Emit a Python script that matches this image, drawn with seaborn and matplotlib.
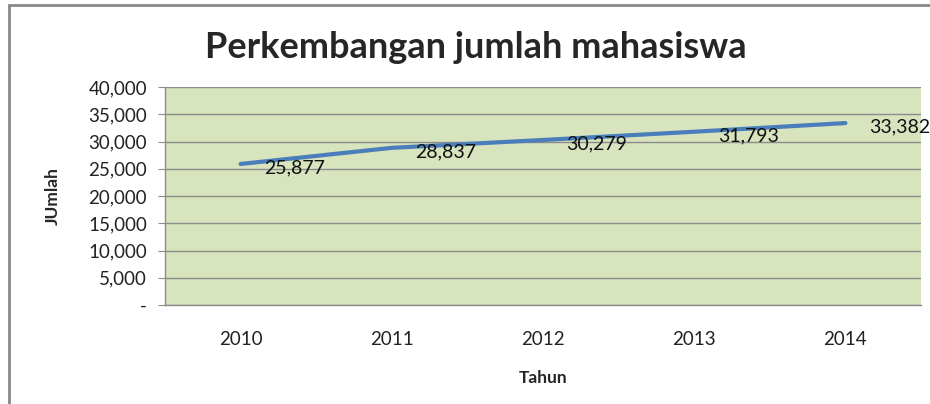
import pandas as pd
import matplotlib.pyplot as plt
import seaborn as sns
from matplotlib.patches import Rectangle
from matplotlib.ticker import FuncFormatter

# Data
tahun = ['2010', '2011', '2012', '2013', '2014']
jumlah = [25877, 28837, 30279, 31793, 33382]

data = pd.DataFrame({'Tahun': tahun, 'Jumlah': jumlah})

sns.set_style('white')
plt.rcParams['font.family'] = ['Lato', 'DejaVu Sans']

fig = plt.figure(figsize=(9.3, 4.04), dpi=100)
ax = fig.add_axes([165 / 930, 1 - 305 / 404, (921 - 165) / 930, (305 - 87) / 404])

sns.lineplot(data=data, x='Tahun', y='Jumlah', ax=ax, color='#4a7ebb',
             linewidth=3, sort=False)

# Value labels to the right of each point
for i, v in enumerate(jumlah):
    ax.annotate(f'{v:,}', (i, v), xytext=(17, -3), textcoords='offset points',
                ha='left', va='center', fontsize=14, color='#111111')

ax.set_facecolor('#d7e4bd')
ax.set_xlim(-0.5, 4.5)
ax.set_ylim(0, 40000)
ax.set_yticks(range(0, 40001, 5000))
ax.yaxis.set_major_formatter(FuncFormatter(lambda v, p: '-' if v == 0 else f'{int(v):,}'))
ax.grid(axis='y', color='#8c8c8c', linewidth=1)
ax.set_axisbelow(True)

for side in ['top', 'right']:
    ax.spines[side].set_visible(False)
for side in ['left', 'bottom']:
    ax.spines[side].set_color('#8c8c8c')
    ax.spines[side].set_linewidth(1)

ax.tick_params(axis='y', which='major', left=True, length=5, color='#8c8c8c',
               labelsize=13.5, pad=8, labelcolor='#222222')
ax.tick_params(axis='x', bottom=False, labelsize=13.5, pad=15, labelcolor='#222222')

ax.set_xlabel('Tahun', fontsize=12.5, fontweight='bold', labelpad=16)
ax.set_ylabel('JUmlah', fontsize=12.5, fontweight='bold', labelpad=20)

fig.suptitle('Perkembangan jumlah mahasiswa', x=476 / 930, y=1 - 47 / 404,
             va='center', fontsize=26, fontweight='bold')

# Chart frame
fig.patches.append(Rectangle((9 / 930, -0.1), 1.2, 1 - 5 / 404 + 0.1,
                             transform=fig.transFigure, fill=False,
                             edgecolor='#888888', linewidth=2))

plt.savefig('out.png', dpi=100)
